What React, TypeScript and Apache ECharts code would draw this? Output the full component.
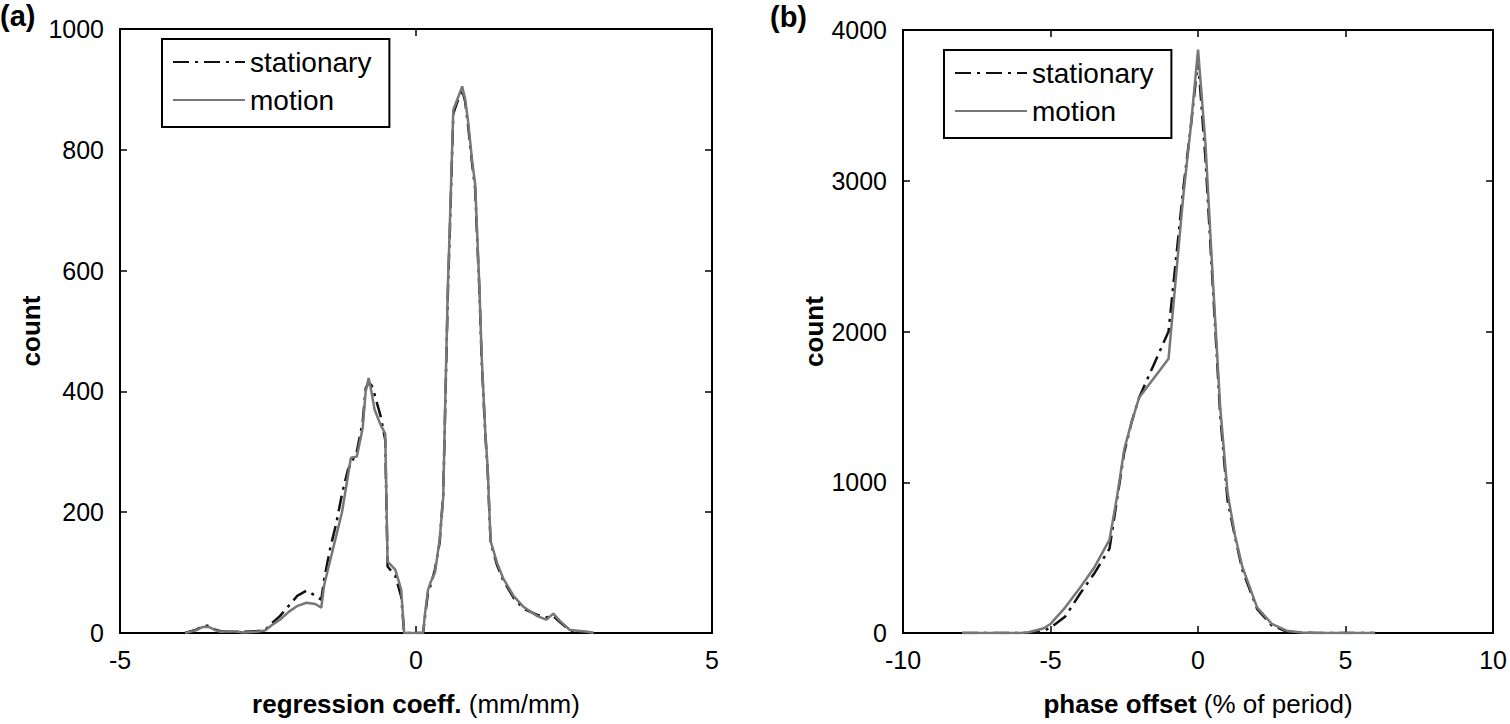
import React, { useEffect, useRef } from "react";
import * as echarts from "echarts";

// Panel (a): regression coefficient histogram
const regX = [-3.9, -3.7, -3.6, -3.5, -3.4, -3.3, -3.1, -2.9, -2.7, -2.55, -2.45, -2.3, -2.15, -2.0, -1.85, -1.7, -1.6, -1.55, -1.45, -1.35, -1.25, -1.15, -1.1, -1.0, -0.9, -0.85, -0.8, -0.75, -0.7, -0.6, -0.52, -0.48, -0.35, -0.25, -0.2, 0.05, 0.12, 0.15, 0.2, 0.25, 0.32, 0.4, 0.46, 0.5, 0.54, 0.57, 0.63, 0.7, 0.78, 0.83, 0.88, 0.95, 1.0, 1.03, 1.07, 1.11, 1.17, 1.21, 1.26, 1.37, 1.47, 1.65, 1.82, 2.05, 2.2, 2.32, 2.43, 2.6, 2.9, 3.0];
const regMotion = [0, 5, 10, 10, 5, 2, 3, 1, 2, 4, 12, 22, 35, 45, 50, 48, 42, 80, 120, 160, 200, 260, 290, 292, 340, 400, 422, 398, 370, 345, 330, 118, 105, 72, 0, 0, 0, 30, 70, 85, 100, 155, 225, 410, 580, 670, 866, 884, 905, 884, 847, 780, 743, 670, 575, 457, 334, 275, 152, 116, 91, 61, 43, 28, 22, 32, 20, 5, 2, 0];
const regStationary = [0, 6, 12, 12, 6, 3, 2, 2, 3, 5, 15, 28, 45, 62, 70, 62, 55, 90, 140, 180, 230, 270, 280, 300, 350, 405, 415, 410, 395, 360, 320, 110, 95, 60, 0, 0, 0, 25, 65, 80, 105, 150, 230, 400, 570, 660, 860, 880, 900, 880, 840, 775, 735, 660, 570, 450, 330, 270, 150, 112, 88, 58, 40, 30, 26, 28, 18, 4, 1, 0];

// Panel (b): phase offset histogram
const phaseX = [-8, -7, -6, -5.75, -5.25, -5, -4.5, -4, -3.5, -3, -2.75, -2.5, -2.25, -2, -1.5, -1, -0.5, -0.25, 0, 0.25, 0.5, 0.75, 1, 1.25, 1.5, 2, 2.5, 3, 3.5, 4, 5, 6];
const phaseMotion = [0, 0, 0, 5, 30, 60, 170, 300, 440, 620, 900, 1220, 1400, 1560, 1690, 1820, 2900, 3350, 3870, 3250, 2350, 1500, 930, 650, 440, 170, 60, 15, 3, 0, 0, 0];
const phaseStationary = [0, 0, 0, 0, 15, 35, 110, 260, 400, 560, 880, 1200, 1400, 1560, 1780, 2000, 2950, 3350, 3800, 3150, 2300, 1450, 880, 640, 420, 160, 50, 10, 2, 0, 0, 0];

const regTicks = { min: -5, max: 5, interval: 5 };
const phaseTicks = { min: -10, max: 10, interval: 5 };
const countTicksA = { min: 0, max: 1000, interval: 200 };
const countTicksB = { min: 0, max: 4000, interval: 1000 };

const FONT = "'Liberation Sans', Arial, sans-serif";

export default function App() {
  const ref = useRef<HTMLDivElement>(null);
  useEffect(() => {
    if (!ref.current) return;
    const chart = echarts.init(ref.current, undefined, { renderer: "svg" });
    const pair = (xs: number[], ys: number[]) => xs.map((x, i) => [x, ys[i]]);
    const axisLine = { show: true, onZero: false, lineStyle: { color: "#000", width: 2 } };
    const tick = { show: true, inside: true, length: 7, lineStyle: { color: "#000", width: 1.5 } };
    const label = { fontSize: 25, color: "#000", fontFamily: FONT, formatter: (v: number) => String(v) };
    const stationaryStyle = { color: "#111", width: 2.5, type: [16, 6, 3, 6] as any };
    const motionStyle = { color: "#777", width: 2.5, type: "solid" as any };
    const nameStyleX = {
      fontSize: 26,
      color: "#000",
      fontFamily: FONT,
      rich: {
        b: { fontSize: 26, fontWeight: "bold", fontFamily: FONT, color: "#000" },
        n: { fontSize: 26, fontFamily: FONT, color: "#000" },
      },
    };
    const xAxisFor = (grid: number, t: any, name: string) => [
      {
        type: "value", gridIndex: grid, position: "bottom", ...t,
        axisLine, axisTick: tick, splitLine: { show: false },
        axisLabel: { ...label, margin: 14 },
        name, nameLocation: "middle", nameGap: 58, nameTextStyle: nameStyleX,
      },
      {
        type: "value", gridIndex: grid, position: "top", ...t,
        axisLine, axisTick: tick, splitLine: { show: false },
        axisLabel: { show: false },
      },
    ];
    const yAxisFor = (grid: number, t: any, gap: number) => [
      {
        type: "value", gridIndex: grid, position: "left", ...t,
        axisLine, axisTick: tick, splitLine: { show: false },
        axisLabel: { ...label, margin: 16 },
        name: "count", nameLocation: "middle", nameGap: gap,
        nameTextStyle: { fontSize: 26, fontWeight: "bold", color: "#000", fontFamily: FONT },
      },
      {
        type: "value", gridIndex: grid, position: "right", ...t,
        axisLine, axisTick: tick, splitLine: { show: false },
        axisLabel: { show: false },
      },
    ];
    const legendBase = {
      orient: "vertical",
      data: ["stationary", "motion"],
      borderColor: "#000",
      borderWidth: 2,
      padding: [9, 18, 13, 10],
      itemWidth: 72,
      itemHeight: 14,
      itemGap: 10,
      itemStyle: { color: "transparent", borderColor: "transparent", borderWidth: 0, opacity: 0 },
      textStyle: { fontSize: 28, color: "#000", fontFamily: FONT },
      selectedMode: false,
    };
    chart.setOption({
      animation: false,
      backgroundColor: "#fff",
      grid: [
        { left: 120, top: 29, width: 592, height: 604 },
        { left: 903, top: 30, width: 596, height: 603 },
      ],
      xAxis: [
        ...xAxisFor(0, regTicks, "{b|regression coeff.} {n|(mm/mm)}"),
        ...xAxisFor(1, phaseTicks, "{b|phase offset} {n|(% of period)}"),
      ],
      yAxis: [...yAxisFor(0, countTicksA, 76), ...yAxisFor(1, countTicksB, 72)],
      legend: [
        { ...legendBase, left: 162, top: 39 },
        { ...legendBase, left: 944, top: 50 },
      ],
      graphic: [
        { type: "text", left: 0, top: 1, style: { text: "(a)", fontSize: 29, fontWeight: "bold", fontFamily: FONT, fill: "#000" } },
        { type: "text", left: 770, top: 2, style: { text: "(b)", fontSize: 29, fontWeight: "bold", fontFamily: FONT, fill: "#000" } },
      ],
      series: [
        { name: "stationary", type: "line", xAxisIndex: 0, yAxisIndex: 0, symbol: "none", data: pair(regX, regStationary), lineStyle: stationaryStyle, itemStyle: { color: "#111" } },
        { name: "motion", type: "line", xAxisIndex: 0, yAxisIndex: 0, symbol: "none", data: pair(regX, regMotion), lineStyle: motionStyle, itemStyle: { color: "#777" } },
        { name: "stationary", type: "line", xAxisIndex: 2, yAxisIndex: 2, symbol: "none", data: pair(phaseX, phaseStationary), lineStyle: stationaryStyle, itemStyle: { color: "#111" } },
        { name: "motion", type: "line", xAxisIndex: 2, yAxisIndex: 2, symbol: "none", data: pair(phaseX, phaseMotion), lineStyle: motionStyle, itemStyle: { color: "#777" } },
      ],
    });
    return () => chart.dispose();
  }, []);
  return (
    <div
      ref={ref}
      style={{ position: "absolute", left: 0, top: 0, width: 1510, height: 724, background: "#fff" }}
    />
  );
}
